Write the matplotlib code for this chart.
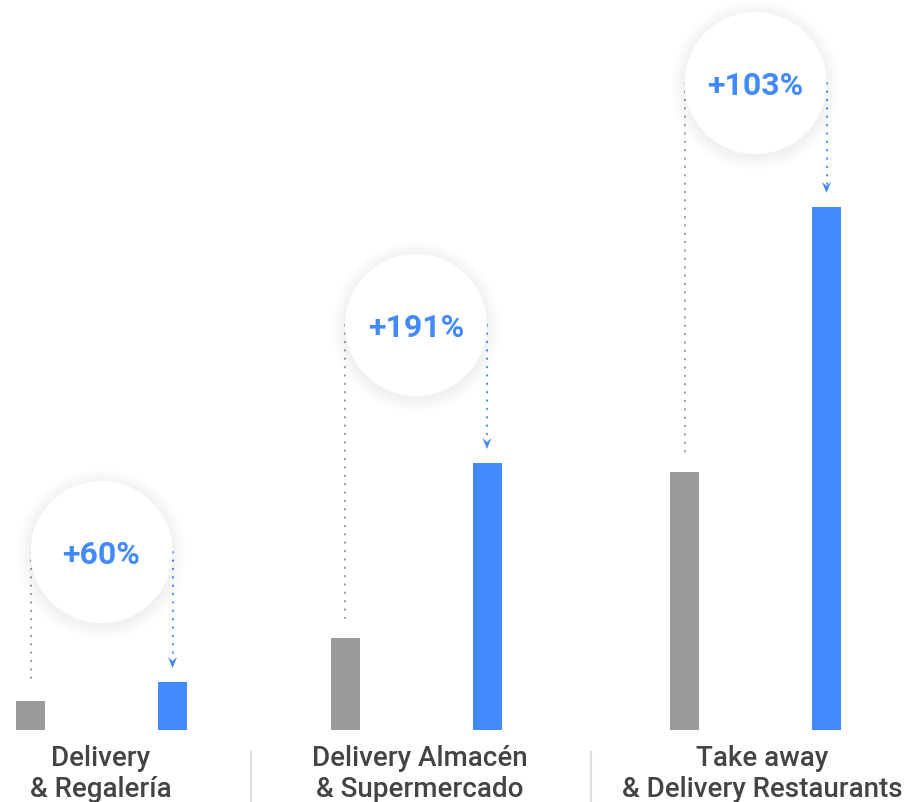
import numpy as np
import matplotlib.pyplot as plt
from matplotlib.patches import Circle, Polygon

# =============================================================================
# Data (bar heights in arbitrary units)
# =============================================================================
categories = ['Delivery\n& Regalería',
              'Delivery Almacén\n& Supermercado',
              'Take away\n& Delivery Restaurants']
before = [29, 92, 258]
after = [48, 267, 523]
growth_labels = ['+60%', '+191%', '+103%']

# =============================================================================
# Style / layout
# =============================================================================
gray = '#9a9a9a'
blue = '#448aff'
text_color = '#444444'
group_x = [101.5, 416, 755.5]
label_x = [101, 420, 762]
circle_gap = [130, 138, 124]   # circle centre above the blue bar
bar_offset = 71
bar_w = 29
circle_r = 71

plt.rcParams['font.family'] = ['Roboto', 'DejaVu Sans']

fig = plt.figure(figsize=(9.07, 8.03), dpi=100)
ax = fig.add_axes([0, 0, 1, 1])
ax.set_xlim(0, 907)
ax.set_ylim(-72, 731)
ax.axis('off')

gx = np.array(group_x)
ax.bar(gx - bar_offset, before, width=bar_w, color=gray, zorder=2)
ax.bar(gx + bar_offset, after, width=bar_w, color=blue, zorder=2)

for i in range(len(categories)):
    cx = group_x[i]
    cy = after[i] + circle_gap[i]
    x0 = cx - bar_offset
    x1 = cx + bar_offset

    # dotted guide lines
    ax.plot([x0, x0], [cy, before[i] + 20], color=gray, lw=1.4,
            linestyle=(0, (0.3, 4.0)), dash_capstyle='round', zorder=1)
    tip = after[i] + 14
    ax.plot([x1, x1], [cy, tip + 8], color=blue, lw=1.4,
            linestyle=(0, (0.3, 4.0)), dash_capstyle='round', zorder=1)
    ax.add_patch(Polygon([[x1, tip], [x1 - 4.5, tip + 11], [x1, tip + 7],
                          [x1 + 4.5, tip + 11]], closed=True, color=blue,
                         lw=0, zorder=2))

    # soft shadow + circle
    for k in range(14):
        ax.add_patch(Circle((cx, cy - 2), circle_r + 14 - k, color='#000000',
                            alpha=0.004, lw=0, zorder=3))
    ax.add_patch(Circle((cx, cy), circle_r, color='white', lw=0, zorder=4))
    ax.text(cx, cy - 2, growth_labels[i], color=blue, fontsize=23,
            fontweight='bold', ha='center', va='center', zorder=5)

    # category label
    ax.text(label_x[i], -14, categories[i], color=text_color, fontsize=20,
            fontweight='medium', ha='center', va='top', linespacing=1.2)

# separators between groups
for sx in [251, 591]:
    ax.plot([sx, sx], [-22, -72], color='#dddddd', lw=1.5)

fig.savefig('out.png', dpi=100)
